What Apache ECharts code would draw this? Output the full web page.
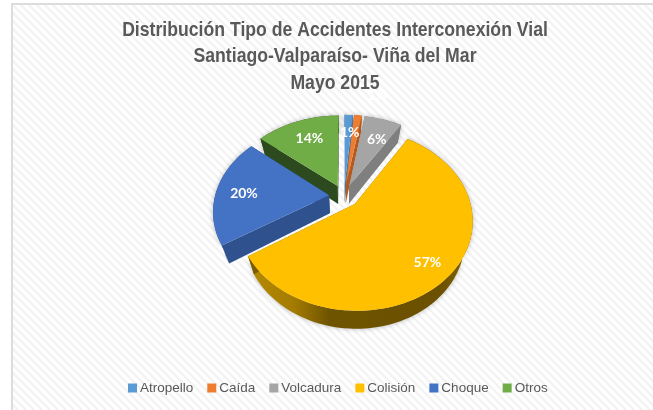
<!DOCTYPE html>
<html><head><meta charset="utf-8">
<style>html,body{margin:0;padding:0;background:#fff}#c{width:653px;height:410px}</style>
<script src="https://cdn.jsdelivr.net/npm/echarts@6/dist/echarts.min.js"></script>
</head><body><div id="c"></div>
<script>
const categories = ['Atropello','Caída','Volcadura','Colisión','Choque','Otros'];
const shares = [1.4,1.3,6.3,57,20,14];
const percentLabels = ['1%','1%','6%','57%','20%','14%'];
const faceColors = ['#5B9BD5','#ED7D31','#A5A5A5','#FFC000','#4472C4','#70AD47'];
const wallColors = ['#3f74a6','#b35a1e','#7f7f7f','#7a5c00','#2F528F','#2c4a1d'];
const titleLines = ['Distribución Tipo de Accidentes Interconexión Vial','Santiago-Valparaíso- Viña del Mar','Mayo 2015'];

const CX=344, CY=196, R=114, EXPLODE=15, TILT=0.75, PERSP=0.17, DEPTH=18, BOTTOM_X=0.94;
const LABEL_FRAC=0.72;
const labelShift={'Atropello':[2,0],'Caída':[22,-37],'Volcadura':[2,3],'Colisión':[7,9],'Choque':[-4,2],'Otros':[2,1]};
const total=shares.reduce((a,b)=>a+b,0);
const TAU=Math.PI*2;

function project(x,y,drop){
  const f=1/(1-PERSP*y);
  const sx=x*R*f*(drop?BOTTOM_X:1);
  return [CX+sx, CY+TILT*y*R*f+drop];
}
function sliceStart(i){
  let s=0; for(let k=0;k<i;k++) s+=shares[k];
  return s/total*TAU;
}
function renderSlice(i){
  return function(params,api){
    const v=api.value(0);
    const a0=sliceStart(i), a1=a0+v/total*TAU;
    const mid=(a0+a1)/2;
    const ex=Math.sin(mid)*EXPLODE/R, ey=-Math.cos(mid)*EXPLODE/R;
    const steps=Math.max(3,Math.ceil((a1-a0)/0.04));
    const rim=(drop)=>{const o=[];for(let k=0;k<=steps;k++){const a=a0+(a1-a0)*k/steps;o.push(project(ex+Math.sin(a),ey-Math.cos(a),drop));}return o;};
    const top=rim(0), bot=rim(DEPTH);
    const apexT=project(ex,ey,0), apexB=project(ex,ey,DEPTH);
    const z=Math.round(-Math.cos(mid)*100)+200+i;
    const isBig=categories[i]==='Colisión';
    let wallFill=wallColors[i];
    if(isBig){
      wallFill=new echarts.graphic.LinearGradient(0,0,1,0,[
        {offset:0,color:'#b58a00'},{offset:0.2,color:'#a57c00'},{offset:0.36,color:'#6f5400'},
        {offset:0.85,color:'#6a5000'},{offset:1,color:'#876600'}]);
    }
    const children=[
      {type:'polygon',z2:z,shape:{points:top.concat(bot.slice().reverse())},
        style:{fill:wallFill,shadowBlur:5,shadowColor:'rgba(0,0,0,0.28)'}},
      {type:'polygon',z2:z,shape:{points:[apexT,top[0],bot[0],apexB]},style:{fill:wallColors[i]}},
      {type:'polygon',z2:z,shape:{points:[apexT,top[steps],bot[steps],apexB]},style:{fill:wallColors[i]}},
      {type:'polygon',z2:z+1,shape:{points:[apexT].concat(top)},style:{fill:faceColors[i]}}
    ];
    const lp=project(ex+Math.sin(mid)*LABEL_FRAC,ey-Math.cos(mid)*LABEL_FRAC,0);
    const sh=labelShift[categories[i]];
    children.push({type:'text',z2:1000,x:lp[0]+sh[0],y:lp[1]+sh[1],
      style:{text:percentLabels[i],fill:'#fff',font:'bold 14px Lato, "Open Sans", sans-serif',align:'center',verticalAlign:'middle'}});
    return {type:'group',children};
  };
}

const hatch=document.createElement('canvas');hatch.width=hatch.height=8;
(function(){const g=hatch.getContext('2d');g.fillStyle='#ffffff';g.fillRect(0,0,8,8);
  g.strokeStyle='#f3f3f3';g.lineWidth=2.4;
  [[-4,-4,12,12],[-4,4,4,12],[4,-4,12,4]].forEach(l=>{g.beginPath();g.moveTo(l[0],l[1]);g.lineTo(l[2],l[3]);g.stroke();});})();

const titleFont='bold 21px "Liberation Sans",sans-serif';
const chart=echarts.init(document.getElementById('c'),null,{renderer:'canvas'});
chart.setOption({
  animation:false,
  backgroundColor:'#ffffff',
  graphic:[
    {type:'rect',z:-10,shape:{x:12,y:4,width:641,height:406},style:{fill:{image:hatch,repeat:'repeat'}},silent:true},
    {type:'rect',z:-9,shape:{x:11,y:3,width:2,height:407},style:{fill:'#dcdcdc'},silent:true},
    {type:'rect',z:-9,shape:{x:11,y:3,width:642,height:2},style:{fill:'#dcdcdc'},silent:true}
  ].concat(titleLines.map((t,i)=>({
    type:'text',z:5,x:335,y:30+i*26.5,scaleX:0.84,silent:true,
    style:{text:t,font:titleFont,fill:'#595959',align:'center',verticalAlign:'middle'}
  }))),
  legend:{
    data:categories,top:376,left:123,
    itemWidth:9,itemHeight:9,itemGap:14,icon:'rect',
    textStyle:{fontFamily:'"Liberation Sans",sans-serif',fontSize:13.5,color:'#595959',padding:[0,0,0,-2]}
  },
  series:categories.map((name,i)=>({
    type:'custom',name,coordinateSystem:'none',clip:false,silent:true,
    itemStyle:{color:faceColors[i]},
    data:[[shares[i]]],
    encode:{value:0},
    z:2,
    renderItem:renderSlice(i)
  }))
});
</script></body></html>
